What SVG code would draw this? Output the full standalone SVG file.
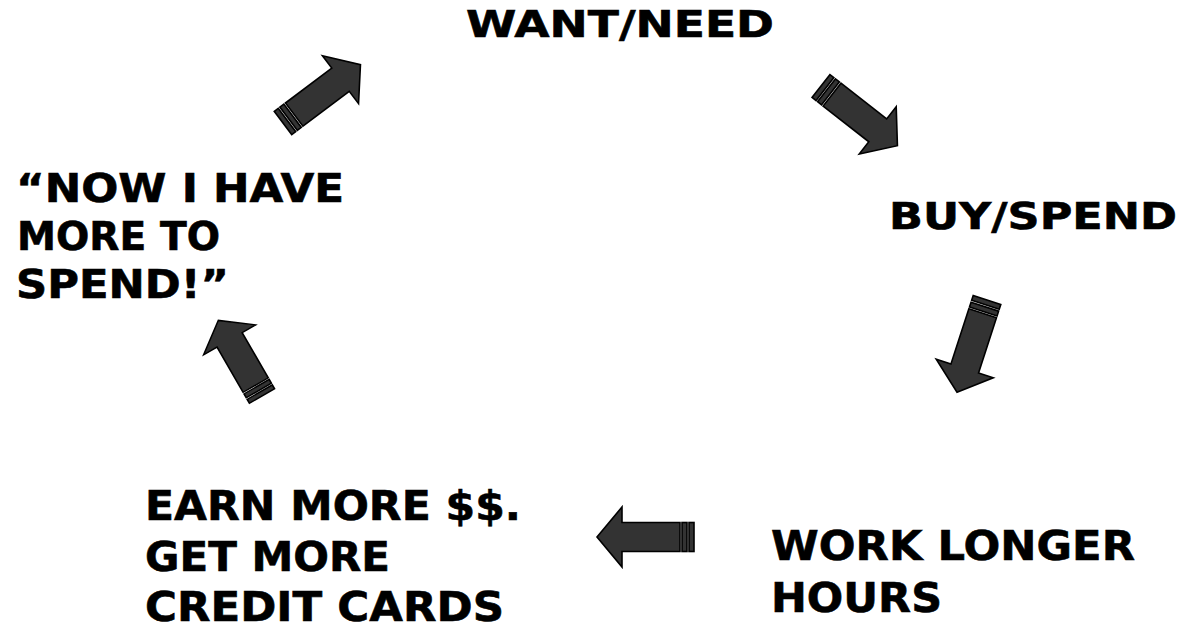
<svg xmlns="http://www.w3.org/2000/svg" width="1180" height="627" viewBox="0 0 1180 627">
<style>
text{font-family:"DejaVu Sans","Liberation Sans",sans-serif;font-weight:bold;fill:#000;stroke:#000;stroke-width:0.6}
.t{font-size:38px}
.m{font-size:39px}
.l{font-size:41px}
.ar{fill:#333;stroke:#000;stroke-width:1.6;stroke-linejoin:miter}
</style>
<defs>
<g id="arrow">
<rect class="ar" x="0" y="-14.5" width="5" height="29"/>
<rect class="ar" x="7" y="-14.5" width="5" height="29"/>
<polygon class="ar" points="14,-14.5 72,-14.5 72,-30 97,0 72,30 72,14.5 14,14.5"/>
</g>
</defs>
<rect width="1180" height="627" fill="#fff"/>
<g id="connectors">
<use href="#arrow" transform="translate(283,123) rotate(-37)"/>
<use href="#arrow" transform="translate(821,86) rotate(38)"/>
<use href="#arrow" transform="translate(987,300) rotate(108)"/>
<use href="#arrow" transform="translate(694,537) rotate(180)"/>
<use href="#arrow" transform="translate(262,396) rotate(-120) scale(0.9,1)"/>
</g>
<g id="want"><text class="t" x="466" y="37" textLength="308" lengthAdjust="spacingAndGlyphs">WANT/NEED</text></g>
<g id="buy"><text class="t" x="889" y="229" textLength="288" lengthAdjust="spacingAndGlyphs">BUY/SPEND</text></g>
<g id="work"><text class="l" x="771" y="560" textLength="364" lengthAdjust="spacingAndGlyphs">WORK LONGER</text><text class="l" x="771" y="612" textLength="171" lengthAdjust="spacingAndGlyphs">HOURS</text></g>
<g id="earn"><text class="l" x="145" y="520" textLength="376" lengthAdjust="spacingAndGlyphs">EARN MORE $$.</text><text class="l" x="145" y="571" textLength="245" lengthAdjust="spacingAndGlyphs">GET MORE</text><text class="l" x="145" y="621" textLength="359" lengthAdjust="spacingAndGlyphs">CREDIT CARDS</text></g>
<g id="now"><text class="m" x="16" y="202" textLength="328" lengthAdjust="spacingAndGlyphs">“NOW I HAVE</text><text class="m" x="17" y="250" textLength="203" lengthAdjust="spacingAndGlyphs">MORE TO</text><text class="m" x="16" y="298" textLength="213" lengthAdjust="spacingAndGlyphs">SPEND!”</text></g>
</svg>
